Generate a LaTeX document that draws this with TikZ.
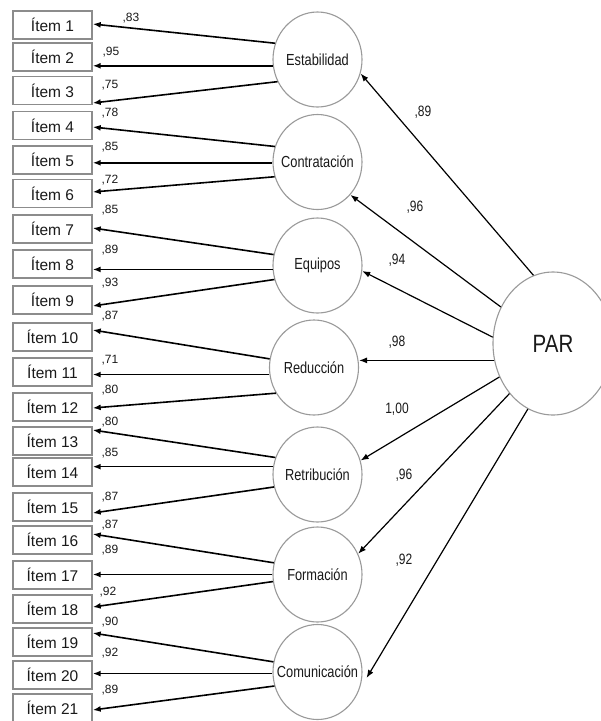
\documentclass[tikz,border=0pt]{standalone}
\usepackage{fontspec}
\setmainfont{Liberation Sans}
\usepackage{graphicx}
\usetikzlibrary{shapes.geometric,arrows.meta,calc}

\definecolor{txt}{HTML}{1A1A1A}
\definecolor{boxgray}{HTML}{8C8C8C}
\definecolor{circgray}{HTML}{9A9A9A}

% condensed label text, kept zero-width so it never enlarges its shape
\newcommand{\narrowtxt}[1]{\makebox[0pt]{\scalebox{0.8}[1]{#1}}}

\tikzset{
  itembox/.style={draw=boxgray, line width=1.4pt, minimum width=79pt,
    minimum height=28pt, inner sep=0pt, font=\fontsize{15.5}{18}\selectfont, text=txt},
  factor/.style={ellipse, draw=circgray, line width=1.1pt, minimum width=89pt,
    minimum height=95pt, inner sep=0pt, font=\fontsize{16}{19}\selectfont, text=txt},
  general/.style={ellipse, draw=circgray, line width=1.1pt, minimum width=120pt,
    minimum height=143pt, inner sep=0pt, font=\fontsize{25}{30}\selectfont, text=txt},
  load/.style={inner sep=0pt, font=\fontsize{12}{14}\selectfont, text=txt},
  gload/.style={inner sep=0pt, font=\fontsize{15}{18}\selectfont, text=txt},
  itemarrow/.style={line width=1.6pt, -{Latex[length=8pt,width=6pt]}},
  pararrow/.style={line width=1.2pt, -{Latex[length=8pt,width=6pt]}},
}

\begin{document}
\begin{tikzpicture}[x=1pt,y=-1pt]
\useasboundingbox (0,0) rectangle (601,721);
\clip (0,0) rectangle (601,721);
\fill[white] (0,0) rectangle (601,721);

% observed items
\foreach \n/\y in {1/25, 2/57, 3/90.5, 4/125.5, 5/160, 6/193.5, 7/229,
                   8/264, 9/300, 10/337, 11/372, 12/407, 13/441, 14/472,
                   15/507, 16/540, 17/575, 18/609, 19/642, 20/675, 21/708}
  \node[itembox] (i\n) at (52.5,\y) {Ítem \n};

% first-order factors
\node[factor] (est) at (317.5,59.5)  {\narrowtxt{Estabilidad}};
\node[factor] (con) at (317.5,162)   {\narrowtxt{Contratación}};
\node[factor] (equ) at (317.5,265.5) {\narrowtxt{Equipos}};
\node[factor] (red) at (314,367.5)   {\narrowtxt{Reducción}};
\node[factor] (ret) at (317.5,474.5) {\narrowtxt{Retribución}};
\node[factor] (frm) at (317.5,574.5) {\narrowtxt{Formación}};
\node[factor] (com) at (317.5,672)   {\narrowtxt{Comunicación}};

% second-order factor
\node[general] (par) at (553,343.5) {\makebox[0pt]{\scalebox{0.82}[1]{PAR}}};

% loadings of the items
\draw[itemarrow] (est.159.7) -- ($(i1.east)+(0,-1)$);
\draw[itemarrow] (est.188.4) -- (est.188.4 -| i2.east);
\draw[itemarrow] (est.209.9) -- ($(i3.east)+(0,12.5)$);
\draw[itemarrow] (con.160.4) -- ($(i4.east)+(0,1.5)$);
\draw[itemarrow] (con.181.3) -- (con.181.3 -| i5.east);
\draw[itemarrow] (con.199.6) -- ($(i6.east)+(0,-1.5)$);
\draw[itemarrow] (equ.166.4) -- ($(i7.east)+(0,-1)$);
\draw[itemarrow] (equ.185.8) -- (equ.185.8 -| i8.east);
\draw[itemarrow] (equ.198.9) -- ($(i9.east)+(0,6)$);
\draw[itemarrow] (red.169)   -- ($(i10.east)+(0,-7)$);
\draw[itemarrow] (red.189.7) -- (red.189.7 -| i11.east);
\draw[itemarrow] (red.214.3) -- ($(i12.east)+(0,1)$);
\draw[itemarrow] (ret.158.4) -- ($(i13.east)+(0,-11)$);
\draw[itemarrow] (ret.170.3) -- (ret.170.3 -| i14.east);
\draw[itemarrow] (ret.196.2) -- ($(i15.east)+(0,6)$);
\draw[itemarrow] (frm.165.1) -- ($(i16.east)+(0,-6)$);
\draw[itemarrow] (frm.180)   -- (frm.180 -| i17.east);
\draw[itemarrow] (frm.189.7) -- ($(i18.east)+(0,-2)$);
\draw[itemarrow] (com.167)   -- ($(i19.east)+(0,-9)$);
\draw[itemarrow] (com.182.6) -- (com.182.6 -| i20.east);
\draw[itemarrow] (com.198.2) -- ($(i21.east)+(0,2)$);

\foreach \n/\x/\y/\v in {1/131/18/83, 2/111/52/95, 3/110/85/75, 4/110/113/78,
    5/110/147/85, 6/110/180/72, 7/110/210/85, 8/110/250/89, 9/110/283/93,
    10/110/316/87, 11/110/360/71, 12/110/390/80, 13/110/422/80, 14/110/453/85,
    15/110/497/87, 16/110/525/87, 17/110/550/89, 18/108/592/92, 19/110/622/90,
    20/110/653/92, 21/110/690/89}
  \node[load] (l\n) at (\x,\y) {,\v};

% loadings of the factors on PAR
\draw[pararrow] (par.106.4) -- (est.342);
\draw[pararrow] (par.145.5) -- (con.315.5);
\draw[pararrow] (par.174.3) -- (equ.353);
\draw[pararrow] (par.196.9) -- (par.196.9 -| red.east);
\draw[pararrow] (par.212.6) -- (ret.18);
\draw[pararrow] (par.229.7) -- (frm.27.9);
\draw[pararrow] (par.249.1) -- ($(com.east)+(4,6)$);

\node[gload] (g1) at (423,112) {\scalebox{0.8}[1]{,89}};
\node[gload] (g2) at (415,207) {\scalebox{0.8}[1]{,96}};
\node[gload] (g3) at (397,260) {\scalebox{0.8}[1]{,94}};
\node[gload] (g4) at (397,342) {\scalebox{0.8}[1]{,98}};
\node[gload] (g5) at (397,409) {\scalebox{0.8}[1]{1,00}};
\node[gload] (g6) at (404,475) {\scalebox{0.8}[1]{,96}};
\node[gload] (g7) at (404,560) {\scalebox{0.8}[1]{,92}};
\end{tikzpicture}
\end{document}
